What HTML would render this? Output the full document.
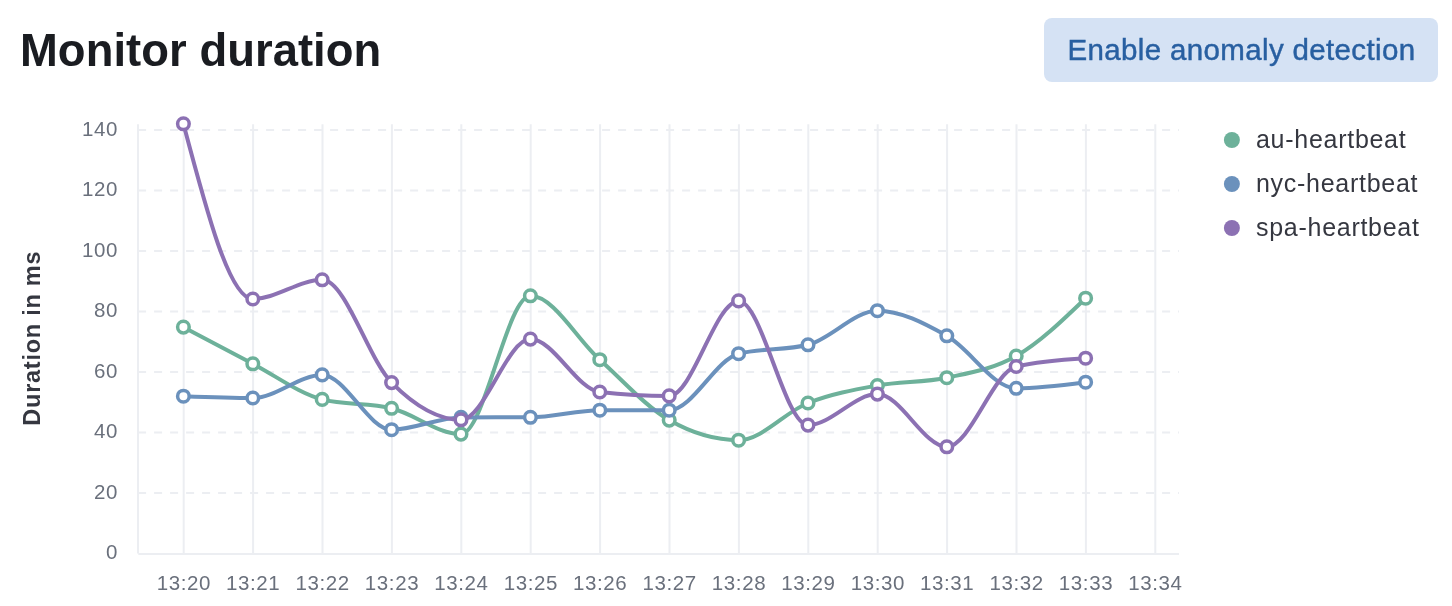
<!DOCTYPE html>
<html lang="en"><head><meta charset="utf-8"><title>Monitor duration</title>
<style>
html,body{margin:0;padding:0;background:#fff;width:1452px;height:606px;overflow:hidden}
body{position:relative;font-family:"Liberation Sans",Arial,sans-serif}
h2{will-change:transform;position:absolute;left:19.5px;letter-spacing:0.05px;top:27.5px;margin:0;font-size:45.4px;line-height:1;font-weight:700;color:#1a1c21;white-space:nowrap}
.btn{will-change:transform;position:absolute;left:1044px;text-indent:1px;-webkit-text-stroke:0.45px #285fa1;top:18px;width:394px;height:64px;box-sizing:border-box;border:0;border-radius:8px;background:#d5e2f4;color:#285fa1;font-family:"Liberation Sans",Arial,sans-serif;font-size:29.5px;letter-spacing:0.35px;padding:0;margin:0;text-align:center;line-height:64px}
svg{position:absolute;left:0;top:0;will-change:transform}
.yt text,.xt text{font-size:20.5px;fill:#6a707c;letter-spacing:0.6px}
.at{font-size:23.5px;font-weight:700;fill:#353740;letter-spacing:0.75px}
.lg{font-size:25px;fill:#353740;letter-spacing:0.72px}
svg text{font-family:"Liberation Sans",Arial,sans-serif}
</style></head>
<body>
<h2>Monitor duration</h2>
<button class="btn" type="button">Enable anomaly detection</button>
<svg width="1452" height="606" viewBox="0 0 1452 606">
<line x1="183.70" y1="124.2" x2="183.70" y2="553.6" stroke="#eceef2" stroke-width="2"/>
<line x1="253.10" y1="124.2" x2="253.10" y2="553.6" stroke="#eceef2" stroke-width="2"/>
<line x1="322.50" y1="124.2" x2="322.50" y2="553.6" stroke="#eceef2" stroke-width="2"/>
<line x1="391.90" y1="124.2" x2="391.90" y2="553.6" stroke="#eceef2" stroke-width="2"/>
<line x1="461.30" y1="124.2" x2="461.30" y2="553.6" stroke="#eceef2" stroke-width="2"/>
<line x1="530.70" y1="124.2" x2="530.70" y2="553.6" stroke="#eceef2" stroke-width="2"/>
<line x1="600.10" y1="124.2" x2="600.10" y2="553.6" stroke="#eceef2" stroke-width="2"/>
<line x1="669.50" y1="124.2" x2="669.50" y2="553.6" stroke="#eceef2" stroke-width="2"/>
<line x1="738.90" y1="124.2" x2="738.90" y2="553.6" stroke="#eceef2" stroke-width="2"/>
<line x1="808.30" y1="124.2" x2="808.30" y2="553.6" stroke="#eceef2" stroke-width="2"/>
<line x1="877.70" y1="124.2" x2="877.70" y2="553.6" stroke="#eceef2" stroke-width="2"/>
<line x1="947.10" y1="124.2" x2="947.10" y2="553.6" stroke="#eceef2" stroke-width="2"/>
<line x1="1016.50" y1="124.2" x2="1016.50" y2="553.6" stroke="#eceef2" stroke-width="2"/>
<line x1="1085.90" y1="124.2" x2="1085.90" y2="553.6" stroke="#eceef2" stroke-width="2"/>
<line x1="1155.30" y1="124.2" x2="1155.30" y2="553.6" stroke="#eceef2" stroke-width="2"/>
<line x1="138.1" y1="493.10" x2="1179.0" y2="493.10" stroke="#eceef2" stroke-width="2" stroke-dasharray="8 8"/>
<line x1="138.1" y1="432.60" x2="1179.0" y2="432.60" stroke="#eceef2" stroke-width="2" stroke-dasharray="8 8"/>
<line x1="138.1" y1="372.10" x2="1179.0" y2="372.10" stroke="#eceef2" stroke-width="2" stroke-dasharray="8 8"/>
<line x1="138.1" y1="311.60" x2="1179.0" y2="311.60" stroke="#eceef2" stroke-width="2" stroke-dasharray="8 8"/>
<line x1="138.1" y1="251.10" x2="1179.0" y2="251.10" stroke="#eceef2" stroke-width="2" stroke-dasharray="8 8"/>
<line x1="138.1" y1="190.60" x2="1179.0" y2="190.60" stroke="#eceef2" stroke-width="2" stroke-dasharray="8 8"/>
<line x1="138.1" y1="130.10" x2="1179.0" y2="130.10" stroke="#eceef2" stroke-width="2" stroke-dasharray="8 8"/>
<line x1="138" y1="124.2" x2="138" y2="553.5" stroke="#eceef2" stroke-width="2"/>
<line x1="138.3" y1="554" x2="1179.0" y2="554" stroke="#eceef2" stroke-width="2"/>
<g class="yt" text-anchor="end"><text x="118" y="559.1">0</text><text x="118" y="498.6">20</text><text x="118" y="438.1">40</text><text x="118" y="377.6">60</text><text x="118" y="317.1">80</text><text x="118" y="256.6">100</text><text x="118" y="196.1">120</text><text x="118" y="135.6">140</text></g>
<g class="xt" text-anchor="middle"><text x="183.8" y="590.2">13:20</text><text x="253.2" y="590.2">13:21</text><text x="322.6" y="590.2">13:22</text><text x="392.0" y="590.2">13:23</text><text x="461.4" y="590.2">13:24</text><text x="530.8" y="590.2">13:25</text><text x="600.2" y="590.2">13:26</text><text x="669.6" y="590.2">13:27</text><text x="739.0" y="590.2">13:28</text><text x="808.4" y="590.2">13:29</text><text x="877.8" y="590.2">13:30</text><text x="947.2" y="590.2">13:31</text><text x="1016.6" y="590.2">13:32</text><text x="1086.0" y="590.2">13:33</text><text x="1155.4" y="590.2">13:34</text></g>
<text class="at" transform="translate(39.8,338.2) rotate(-90)" text-anchor="middle">Duration in ms</text>
<path d="M183.40,327.10C206.53,339.43,229.67,351.75,252.80,363.80C275.93,375.85,299.07,393.47,322.20,399.40C345.33,405.33,368.47,402.52,391.60,408.30C414.73,414.08,437.87,434.10,461.00,434.10C484.13,434.10,507.27,295.80,530.40,295.80C553.53,295.80,576.67,338.98,599.80,359.70C622.93,380.42,646.07,406.70,669.20,420.10C692.33,433.50,715.47,440.20,738.60,440.20C761.73,440.20,784.87,412.12,808.00,403.00C831.13,393.88,854.27,389.72,877.40,385.50C900.53,381.28,923.67,382.62,946.80,377.70C969.93,372.78,993.07,369.25,1016.20,356.00C1039.33,342.75,1062.47,320.48,1085.60,298.20" fill="none" stroke="#6db19a" stroke-width="4" stroke-linejoin="round" stroke-linecap="round"/>
<g fill="#fff" stroke="#6db19a" stroke-width="3.5"><circle cx="183.40" cy="327.10" r="5.8"/><circle cx="252.80" cy="363.80" r="5.8"/><circle cx="322.20" cy="399.40" r="5.8"/><circle cx="391.60" cy="408.30" r="5.8"/><circle cx="461.00" cy="434.10" r="5.8"/><circle cx="530.40" cy="295.80" r="5.8"/><circle cx="599.80" cy="359.70" r="5.8"/><circle cx="669.20" cy="420.10" r="5.8"/><circle cx="738.60" cy="440.20" r="5.8"/><circle cx="808.00" cy="403.00" r="5.8"/><circle cx="877.40" cy="385.50" r="5.8"/><circle cx="946.80" cy="377.70" r="5.8"/><circle cx="1016.20" cy="356.00" r="5.8"/><circle cx="1085.60" cy="298.20" r="5.8"/></g>
<path d="M183.40,396.20C206.53,397.10,229.67,398.00,252.80,398.00C275.93,398.00,299.07,374.90,322.20,374.90C345.33,374.90,368.47,429.70,391.60,429.70C414.73,429.70,437.87,417.47,461.00,417.40C484.13,417.33,507.27,417.37,530.40,417.30C553.53,417.23,576.67,410.20,599.80,410.20C622.93,410.20,646.07,410.20,669.20,410.20C692.33,410.20,715.47,359.63,738.60,353.70C761.73,347.77,784.87,350.73,808.00,344.80C831.13,338.87,854.27,310.70,877.40,310.70C900.53,310.70,923.67,322.87,946.80,335.80C969.93,348.73,993.07,388.30,1016.20,388.30C1039.33,388.30,1062.47,385.25,1085.60,382.20" fill="none" stroke="#6b91bc" stroke-width="4" stroke-linejoin="round" stroke-linecap="round"/>
<g fill="#fff" stroke="#6b91bc" stroke-width="3.5"><circle cx="183.40" cy="396.20" r="5.8"/><circle cx="252.80" cy="398.00" r="5.8"/><circle cx="322.20" cy="374.90" r="5.8"/><circle cx="391.60" cy="429.70" r="5.8"/><circle cx="461.00" cy="417.40" r="5.8"/><circle cx="530.40" cy="417.30" r="5.8"/><circle cx="599.80" cy="410.20" r="5.8"/><circle cx="669.20" cy="410.20" r="5.8"/><circle cx="738.60" cy="353.70" r="5.8"/><circle cx="808.00" cy="344.80" r="5.8"/><circle cx="877.40" cy="310.70" r="5.8"/><circle cx="946.80" cy="335.80" r="5.8"/><circle cx="1016.20" cy="388.30" r="5.8"/><circle cx="1085.60" cy="382.20" r="5.8"/></g>
<path d="M183.40,123.80C206.53,211.40,229.67,299.00,252.80,299.00C275.93,299.00,299.07,279.80,322.20,279.80C345.33,279.80,368.47,359.27,391.60,382.60C414.73,405.93,437.87,419.80,461.00,419.80C484.13,419.80,507.27,339.10,530.40,339.10C553.53,339.10,576.67,389.40,599.80,392.00C622.93,394.60,646.07,395.90,669.20,395.90C692.33,395.90,715.47,300.90,738.60,300.90C761.73,300.90,784.87,425.10,808.00,425.10C831.13,425.10,854.27,394.10,877.40,394.10C900.53,394.10,923.67,446.80,946.80,446.80C969.93,446.80,993.07,372.03,1016.20,366.50C1039.33,360.97,1062.47,359.58,1085.60,358.20" fill="none" stroke="#8c71b3" stroke-width="4" stroke-linejoin="round" stroke-linecap="round"/>
<g fill="#fff" stroke="#8c71b3" stroke-width="3.5"><circle cx="183.40" cy="123.80" r="5.8"/><circle cx="252.80" cy="299.00" r="5.8"/><circle cx="322.20" cy="279.80" r="5.8"/><circle cx="391.60" cy="382.60" r="5.8"/><circle cx="461.00" cy="419.80" r="5.8"/><circle cx="530.40" cy="339.10" r="5.8"/><circle cx="599.80" cy="392.00" r="5.8"/><circle cx="669.20" cy="395.90" r="5.8"/><circle cx="738.60" cy="300.90" r="5.8"/><circle cx="808.00" cy="425.10" r="5.8"/><circle cx="877.40" cy="394.10" r="5.8"/><circle cx="946.80" cy="446.80" r="5.8"/><circle cx="1016.20" cy="366.50" r="5.8"/><circle cx="1085.60" cy="358.20" r="5.8"/></g>
<circle cx="1231.9" cy="140.0" r="8" fill="#6db19a"/><text class="lg" x="1256" y="147.8">au-heartbeat</text><circle cx="1231.9" cy="184.0" r="8" fill="#6b91bc"/><text class="lg" x="1256" y="191.8">nyc-heartbeat</text><circle cx="1231.9" cy="228.0" r="8" fill="#8c71b3"/><text class="lg" x="1256" y="235.8">spa-heartbeat</text>
</svg>
</body></html>
